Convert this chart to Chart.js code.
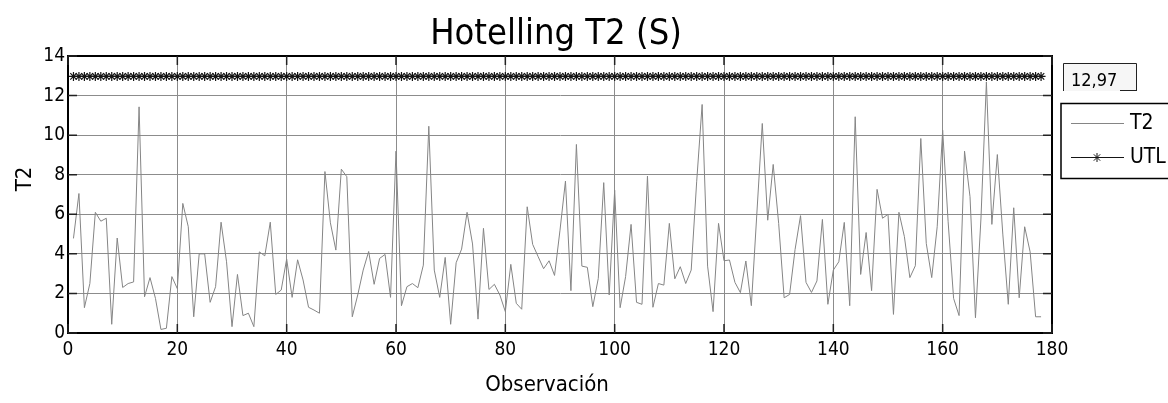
<!DOCTYPE html>
<html>
<head>
<meta charset="utf-8">
<title>Hotelling T2 (S)</title>
<script src="https://cdn.jsdelivr.net/npm/chart.js@4.4.1/dist/chart.umd.min.js"></script>
<style>
  html, body { margin: 0; padding: 0; background: #fff; }
  canvas { display: block; }
</style>
</head>
<body>
<canvas id="t2-chart" width="1168" height="403"></canvas>
<script>
// Valores T2 por observación (1..178)
const t2Values = [
    4.78, 7.05, 1.28, 2.5, 6.1, 5.65, 5.8, 0.44, 4.8, 2.3,
    2.5, 2.58, 11.43, 1.83, 2.8, 1.75, 0.18, 0.24, 2.85, 2.24,
    6.55, 5.37, 0.82, 4.0, 4.0, 1.55, 2.34, 5.6, 3.6, 0.32,
    2.96, 0.88, 1.0, 0.32, 4.1, 3.9, 5.6, 1.95, 2.17, 3.74,
    1.8, 3.7, 2.68, 1.3, 1.16, 1.0, 8.16, 5.57, 4.19, 8.28,
    7.9, 0.82, 1.92, 3.18, 4.12, 2.46, 3.77, 3.97, 1.8, 9.19,
    1.38, 2.34, 2.5, 2.29, 3.43, 10.45, 3.18, 1.8, 3.82, 0.44,
    3.55, 4.24, 6.1, 4.5, 0.7, 5.29, 2.2, 2.46, 1.92, 1.08,
    3.47, 1.5, 1.2, 6.38, 4.48, 3.86, 3.25, 3.65, 2.91, 5.2,
    7.68, 2.14, 9.53, 3.38, 3.32, 1.33, 2.76, 7.6, 1.92, 7.22,
    1.28, 2.85, 5.49, 1.55, 1.45, 7.93, 1.3, 2.5, 2.42, 5.54,
    2.74, 3.35, 2.5, 3.18, 7.64, 11.55, 3.38, 1.08, 5.54, 3.65,
    3.69, 2.56, 2.04, 3.64, 1.38, 6.0, 10.59, 5.7, 8.52, 5.54,
    1.78, 1.95, 4.22, 5.93, 2.56, 2.05, 2.63, 5.74, 1.45, 3.18,
    3.6, 5.59, 1.38, 10.93, 2.96, 5.08, 2.14, 7.26, 5.8, 6.0,
    0.94, 6.1, 4.87, 2.8, 3.4, 9.83, 4.53, 2.8, 5.37, 10.25,
    5.62, 1.75, 0.88, 9.19, 6.89, 0.77, 5.76, 12.69, 5.49, 9.02,
    5.0, 1.45, 6.33, 1.78, 5.37, 4.1, 0.82, 0.82
];
// Límite superior de control
const utlValue = 12.97;

const seriesLabels = ['T2', 'UTL'];
const xTicks = [0, 20, 40, 60, 80, 100, 120, 140, 160, 180];
const yTicks = [0, 2, 4, 6, 8, 10, 12, 14];

const FONT = "'DejaVu Sans Condensed', 'DejaVu Sans', sans-serif";

const t2Points = t2Values.map((v, i) => ({ x: i + 1, y: v }));
const utlPoints = t2Values.map((v, i) => ({ x: i + 1, y: utlValue }));

// Dibuja título, rótulos, marco, ticks interiores, caja del valor y leyenda
const decorPlugin = {
    id: 'decor',
    afterDraw(chart) {
        const ctx = chart.ctx;
        const a = chart.chartArea;
        const xs = chart.scales.x, ys = chart.scales.y;
        ctx.save();

        // marco superior y derecho
        ctx.strokeStyle = '#000';
        ctx.lineWidth = 2;
        ctx.beginPath();
        ctx.moveTo(a.left, a.top); ctx.lineTo(a.right, a.top); ctx.lineTo(a.right, a.bottom);
        ctx.stroke();

        // ticks interiores estilo MATLAB
        ctx.strokeStyle = '#222';
        ctx.lineWidth = 1.5;
        ctx.beginPath();
        xTicks.forEach(t => {
            const px = xs.getPixelForValue(t);
            ctx.moveTo(px, a.bottom); ctx.lineTo(px, a.bottom - 9);
            ctx.moveTo(px, a.top); ctx.lineTo(px, a.top + 9);
        });
        yTicks.forEach(t => {
            const py = ys.getPixelForValue(t);
            ctx.moveTo(a.left, py); ctx.lineTo(a.left + 9, py);
            ctx.moveTo(a.right, py); ctx.lineTo(a.right - 9, py);
        });
        ctx.stroke();

        // títulos
        ctx.fillStyle = '#000';
        ctx.textAlign = 'center';
        ctx.textBaseline = 'alphabetic';
        ctx.font = '36px ' + FONT;
        ctx.fillText('Hotelling T2 (S)', 556, 44);
        ctx.font = '22px ' + FONT;
        ctx.fillText('Observación', 547, 391);
        ctx.save();
        ctx.translate(31, 179);
        ctx.rotate(-Math.PI / 2);
        ctx.fillText('T2', 0, 0);
        ctx.restore();

        // caja con el valor del límite
        ctx.fillStyle = '#f6f6f6';
        ctx.fillRect(1063, 63, 73, 28);
        ctx.strokeStyle = '#222';
        ctx.lineWidth = 1;
        ctx.beginPath();
        ctx.moveTo(1063.5, 91); ctx.lineTo(1063.5, 63.5); ctx.lineTo(1136.5, 63.5); ctx.lineTo(1136.5, 91);
        ctx.moveTo(1120, 90.5); ctx.lineTo(1136.5, 90.5);
        ctx.stroke();
        ctx.fillStyle = '#000';
        ctx.textAlign = 'left';
        ctx.font = '18px ' + FONT;
        ctx.fillText(utlValue.toFixed(2).replace('.', ','), 1071, 86);

        // leyenda
        ctx.strokeStyle = '#000';
        ctx.lineWidth = 1.5;
        ctx.strokeRect(1061, 103.5, 130, 75);
        const ds = chart.data.datasets;
        const rows = [123, 157];
        ctx.font = '21px ' + FONT;
        ctx.textBaseline = 'middle';
        rows.forEach((y, i) => {
            ctx.strokeStyle = ds[i].borderColor;
            ctx.lineWidth = 1;
            ctx.beginPath();
            ctx.moveTo(1071, y + 0.5); ctx.lineTo(1124, y + 0.5);
            ctx.stroke();
            if (i === 1) {
                Chart.helpers.drawPoint(ctx, {
                    pointStyle: 'star', radius: 4.5, borderWidth: 1.2, rotation: 0
                }, 1097, y + 0.5);
            }
            ctx.fillStyle = '#000';
            ctx.fillText(seriesLabels[i], 1130, y + 1);
        });

        ctx.restore();
    }
};

new Chart(document.getElementById('t2-chart'), {
    type: 'line',
    data: {
        datasets: [
            {
                label: seriesLabels[0],
                data: t2Points,
                borderColor: '#858585',
                borderWidth: 1,
                pointRadius: 0,
                tension: 0
            },
            {
                label: seriesLabels[1],
                data: utlPoints,
                borderColor: '#151515',
                borderWidth: 1,
                pointStyle: 'star',
                pointRadius: 4.5,
                pointBorderColor: '#151515',
                pointBorderWidth: 1.2,
                pointBackgroundColor: '#151515'
            }
        ]
    },
    options: {
        responsive: false,
        animation: false,
        devicePixelRatio: 1,
        layout: { padding: { left: 0, top: 56, right: 116, bottom: 0 } },
        plugins: {
            legend: { display: false },
            title: { display: false },
            tooltip: { enabled: false }
        },
        scales: {
            x: {
                type: 'linear',
                min: 0,
                max: 180,
                afterFit(scale) { scale.height = 70; },
                afterBuildTicks(scale) { scale.ticks = xTicks.map(v => ({ value: v })); },
                ticks: {
                    font: { family: FONT, size: 19 },
                    color: '#000',
                    padding: 6,
                    maxRotation: 0,
                    autoSkip: false
                },
                grid: { color: '#8c8c8c', lineWidth: 1, drawTicks: false },
                border: { display: true, color: '#000', width: 2 }
            },
            y: {
                min: 0,
                max: 14,
                afterFit(scale) { scale.width = 68; },
                afterBuildTicks(scale) { scale.ticks = yTicks.map(v => ({ value: v })); },
                ticks: {
                    font: { family: FONT, size: 19 },
                    color: '#000',
                    padding: 3
                },
                grid: { color: '#8c8c8c', lineWidth: 1, drawTicks: false },
                border: { display: true, color: '#000', width: 2 }
            }
        }
    },
    plugins: [decorPlugin]
});
</script>
</body>
</html>
